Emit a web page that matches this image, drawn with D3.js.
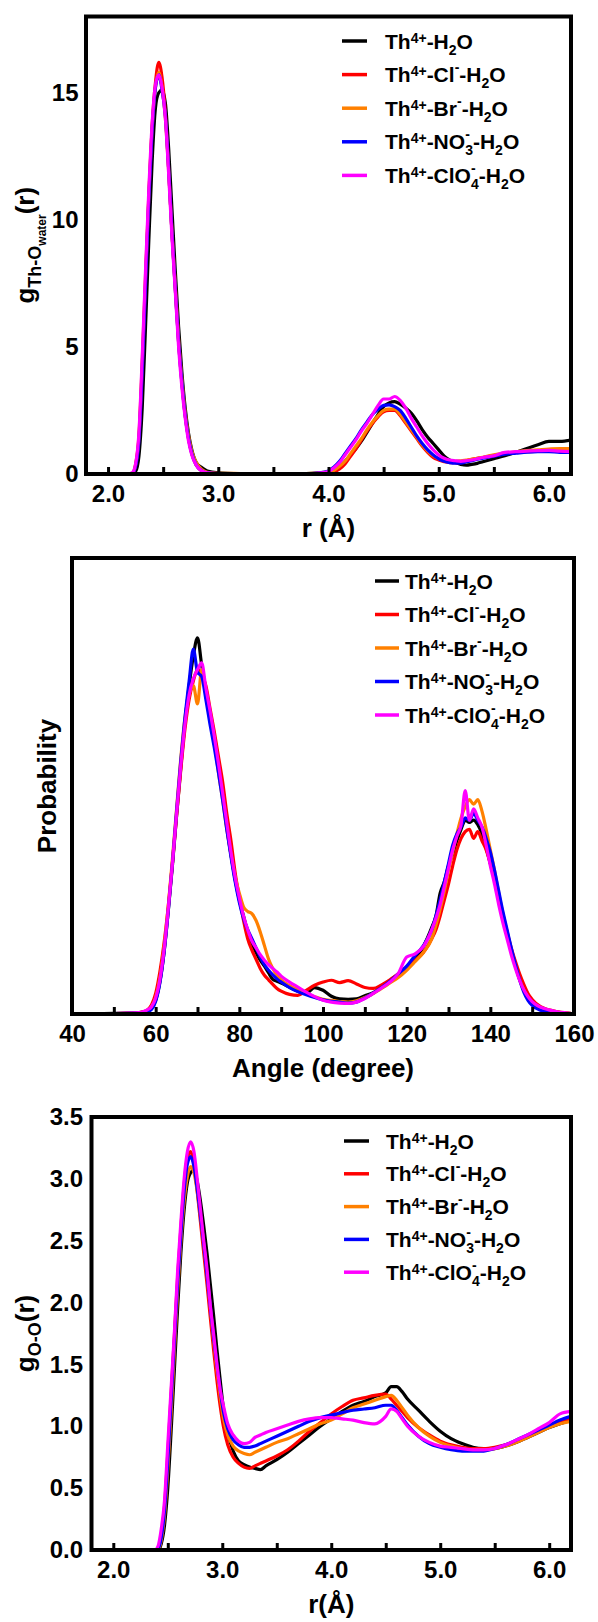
<!DOCTYPE html>
<html><head><meta charset="utf-8">
<script src="https://cdn.jsdelivr.net/npm/d3@7"></script>
<style>
body{margin:0;background:#fff}
svg{display:block}
text{font-family:"Liberation Sans",Arial,Helvetica,sans-serif;font-weight:bold;fill:#000}
</style>
</head><body>
<svg id="c" width="598" height="1622"></svg>
<script>
// ---------- shared ----------
const seriesColors = ["#000000", "#ff0000", "#ff8000", "#0000ff", "#ff00ff"];
const legendLabels = [
  [{t:"Th"},{t:"4+",k:"sup"},{t:"-H"},{t:"2",k:"sub"},{t:"O"}],
  [{t:"Th"},{t:"4+",k:"sup"},{t:"-Cl"},{t:"-",k:"supm"},{t:"-H"},{t:"2",k:"sub"},{t:"O"}],
  [{t:"Th"},{t:"4+",k:"sup"},{t:"-Br"},{t:"-",k:"supm"},{t:"-H"},{t:"2",k:"sub"},{t:"O"}],
  [{t:"Th"},{t:"4+",k:"sup"},{t:"-NO"},{t:"-",k:"supm"},{t:"3",k:"sub",stack:true},{t:"-H"},{t:"2",k:"sub"},{t:"O"}],
  [{t:"Th"},{t:"4+",k:"sup"},{t:"-ClO"},{t:"-",k:"supm"},{t:"4",k:"sub",stack:true},{t:"-H"},{t:"2",k:"sub"},{t:"O"}]
];

// ---------- panel 1 : g Th-O water ----------
const r1 = [1.80,2.00,2.18,2.22,2.25,2.28,2.31,2.34,2.37,2.40,2.43,2.46,2.49,2.52,2.55,2.58,2.61,2.64,2.67,2.70,2.73,2.76,2.80,2.85,2.90,3.00,3.20,3.50,3.80,3.90,4.00,4.05,4.10,4.15,4.20,4.25,4.30,4.35,4.40,4.45,4.50,4.55,4.60,4.65,4.70,4.75,4.80,4.85,4.90,4.95,5.00,5.05,5.10,5.15,5.20,5.25,5.30,5.35,5.40,5.50,5.60,5.70,5.80,5.90,6.00,6.10,6.20];
const g1Black  = [0,0,0,0,0.1,0.7,2.6,5.8,9.2,12.3,14.4,15.0,15.1,14.6,12.8,10.4,8.0,5.8,4.0,2.6,1.6,0.95,0.45,0.25,0.12,0.05,0.02,0.01,0.02,0.04,0.08,0.15,0.3,0.5,0.75,1.0,1.3,1.65,2.0,2.35,2.65,2.8,2.85,2.75,2.6,2.4,2.1,1.75,1.45,1.2,0.95,0.7,0.55,0.45,0.38,0.35,0.38,0.42,0.48,0.6,0.72,0.85,1.0,1.15,1.28,1.28,1.33];
const g1Cl     = [0,0,0,0.02,0.35,1.4,4.2,7.6,10.9,13.7,15.4,16.2,15.6,14.2,12.0,9.5,7.3,5.2,3.6,2.3,1.4,0.8,0.35,0.12,0.05,0.02,0.01,0,0,0.01,0.03,0.08,0.2,0.4,0.7,1.0,1.35,1.7,2.0,2.25,2.45,2.5,2.5,2.3,2.0,1.7,1.4,1.1,0.85,0.65,0.55,0.48,0.45,0.45,0.47,0.52,0.58,0.62,0.65,0.72,0.8,0.85,0.88,0.9,0.92,0.93,0.92];
const g1Br     = [0,0,0,0.03,0.38,1.5,4.4,7.8,11.0,13.6,15.2,15.8,15.2,14.0,11.9,9.5,7.4,5.3,3.7,2.4,1.5,0.9,0.45,0.18,0.07,0.03,0.02,0.01,0.02,0.04,0.1,0.15,0.3,0.5,0.8,1.1,1.4,1.75,2.05,2.3,2.5,2.55,2.55,2.35,2.05,1.75,1.45,1.15,0.9,0.72,0.6,0.52,0.5,0.5,0.52,0.55,0.58,0.62,0.66,0.75,0.82,0.87,0.92,0.95,0.98,1.0,1.0];
const g1NO3    = [0,0,0,0.02,0.3,1.3,4.0,7.4,10.8,13.5,15.2,15.7,15.1,14.1,12.0,9.5,7.3,5.2,3.6,2.3,1.4,0.8,0.35,0.13,0.05,0.02,0.01,0,0.01,0.04,0.12,0.28,0.5,0.8,1.1,1.4,1.75,2.05,2.35,2.55,2.7,2.72,2.65,2.5,2.2,1.85,1.5,1.2,0.95,0.75,0.6,0.5,0.45,0.43,0.43,0.48,0.52,0.58,0.62,0.7,0.78,0.82,0.86,0.88,0.88,0.85,0.85];
const g1ClO4   = [0,0,0,0.05,0.4,1.6,4.6,8.0,11.2,13.8,15.3,15.7,15.2,14.0,11.8,9.3,7.2,5.0,3.4,2.2,1.3,0.75,0.35,0.12,0.05,0.02,0.01,0,0.01,0.03,0.1,0.25,0.45,0.75,1.05,1.35,1.7,2.0,2.35,2.7,2.95,2.95,3.05,2.9,2.6,2.2,1.85,1.5,1.2,0.95,0.75,0.62,0.55,0.52,0.5,0.52,0.55,0.6,0.65,0.72,0.85,0.88,0.9,0.92,0.93,0.9,0.88];
const xTicks1 = [2.0,2.5,3.0,3.5,4.0,4.5,5.0,5.5,6.0];
const xTickLabels1 = ["2.0","","3.0","","4.0","","5.0","","6.0"];
const yTicks1 = [0,5,10,15];
const yTickLabels1 = ["0","5","10","15"];

// ---------- panel 2 : angle distribution ----------
const ang = [40,45,50,54,56,57,58,59,60,61,62,63,64,65,66,67,68,69,70,71,72,73,74,75,76,77,78,79,80,81,82,83,84,85,86,87,88,89,90,92,94,96,98,100,102,104,106,108,110,112,114,116,118,120,122,124,126,127,128,129,130,131,132,133,134,135,136,137,138,139,140,141,142,143,144,145,146,147,148,149,150,152,154,156,158,160];
const pBlack = [0,0.05,0.15,0.2,0.3,0.4,0.6,1.2,3.0,7.0,13.5,22.5,32.5,43.5,54,64,72,78.5,82.5,76.5,71,66,60.5,54.5,48,41,35,29.5,25,21.5,18,15.5,13.5,11.8,10.5,9.0,7.6,7.2,6.8,5.9,5.0,4.6,5.8,5.2,3.9,3.3,3.2,3.3,4.0,4.7,5.8,7.3,8.8,10.2,11.8,14.8,19.0,21.5,26.5,29,32.5,35,38,40.5,42.5,42,42.5,41.5,39.5,36.5,33,29.5,25.5,21.5,17.5,14,10.8,7.8,5.4,3.6,2.5,1.2,0.7,0.4,0.2,0.05];
const pCl    = [0,0.05,0.1,0.2,0.3,0.5,0.9,2.0,4.5,9.2,15.5,23.5,33,43.5,53.5,62.5,69,73,75.5,74.5,72,67,62,56.5,51,44,38,31,25.5,20.5,16.5,14,12,10,8.5,7.5,6.5,5.6,5.0,4.3,4.1,5.2,6.3,7.0,7.4,6.9,7.3,6.6,5.8,5.6,6.4,7.5,8.8,10.2,11.8,13.5,16.5,18.5,21.5,25,28.5,32.5,36,38.5,40,40.5,38.5,40,38,36,33,29.5,25.5,21.5,18,14.5,11.5,8.8,6.5,4.5,3.2,1.6,0.9,0.5,0.25,0.05];
const pBr    = [0,0.05,0.1,0.2,0.3,0.4,0.7,1.5,3.6,7.8,14.5,23.5,34,45,56,65,70,72,68,75.5,70,65,60,53,47,40.5,35,30,26.5,23.5,22.5,22,20.5,18,15,12,10,8.5,7.5,6.2,5.3,4.5,3.8,3.2,3.0,2.7,2.6,2.9,3.6,4.5,5.6,6.8,8.0,9.6,11.5,13.5,16.5,19.5,23,27,31.5,35.5,39.5,43,45.5,47,46,47,44.5,40.5,36,31.5,26.5,22,18,14,10.5,7.5,5.2,3.5,2.4,1.3,0.8,0.4,0.2,0.05];
const pNO3   = [0,0.05,0.1,0.2,0.25,0.35,0.5,1.0,2.8,6.8,13.5,22.5,33,44.5,55.5,65,73,80,75,74,69,63.5,58.5,53,47,40.5,34.5,29,24.5,21,18.5,16.5,14.5,12.5,10.8,9.6,8.6,7.7,7.0,5.8,4.9,4.2,3.6,3.1,2.8,2.6,2.4,2.6,3.5,4.6,5.8,7.2,8.8,10.5,12.8,15,18.5,21.5,25,29,33,37,39.5,41,43,42.5,44,42.5,41,38.5,35.5,31.5,27,22.5,18.5,14.5,10.8,7.5,4.8,3.0,1.9,0.8,0.4,0.2,0.1,0.02];
const pClO4  = [0,0.05,0.1,0.2,0.3,0.5,0.9,1.6,3.5,7.5,14,23,33,44,54.5,63.5,70,73.5,75.5,77,71.5,66.5,61,55,48.5,42,35.5,30,25.5,21.5,18.5,16,14.5,13,11.8,10.8,10,9.2,8.3,7.0,5.9,4.8,3.8,3.0,2.6,2.4,2.3,2.6,3.4,4.5,5.7,7.0,8.9,12.5,13.2,14.8,18.5,21,24,28,32,36,39,41.5,49,42.5,45,43,41,37,32.5,28.5,24,20,16.5,13,10,7.4,5.3,3.8,2.7,1.5,0.9,0.5,0.25,0.05];
const xTicks2 = [40,50,60,70,80,90,100,110,120,130,140,150,160];
const xTickLabels2 = ["40","","60","","80","","100","","120","","140","","160"];

// ---------- panel 3 : g O-O ----------
const r3 = [1.80,2.00,2.20,2.38,2.41,2.44,2.47,2.50,2.53,2.56,2.59,2.62,2.65,2.68,2.71,2.74,2.77,2.80,2.83,2.86,2.89,2.92,2.95,2.98,3.01,3.05,3.10,3.15,3.20,3.25,3.30,3.35,3.40,3.50,3.60,3.70,3.80,3.90,4.00,4.10,4.20,4.30,4.40,4.50,4.55,4.60,4.65,4.70,4.80,4.90,5.00,5.10,5.20,5.30,5.40,5.50,5.60,5.70,5.80,5.90,6.00,6.10,6.20];
const o3Black = [0,0,0,0,0,0.05,0.2,0.5,0.95,1.45,1.95,2.4,2.75,2.97,3.05,3.07,2.98,2.82,2.62,2.4,2.15,1.9,1.63,1.38,1.15,0.95,0.8,0.72,0.69,0.67,0.66,0.65,0.68,0.73,0.79,0.86,0.93,1.0,1.06,1.12,1.17,1.2,1.24,1.27,1.32,1.32,1.28,1.22,1.13,1.04,0.96,0.9,0.86,0.83,0.82,0.82,0.84,0.87,0.91,0.95,0.99,1.02,1.05];
const o3Cl    = [0,0,0,0,0.01,0.12,0.35,0.78,1.25,1.72,2.2,2.6,2.95,3.17,3.22,3.12,2.9,2.65,2.4,2.15,1.88,1.62,1.38,1.17,1.0,0.85,0.75,0.7,0.67,0.66,0.68,0.7,0.72,0.76,0.81,0.88,0.96,1.03,1.1,1.16,1.21,1.23,1.25,1.26,1.22,1.17,1.12,1.07,0.99,0.93,0.88,0.85,0.83,0.82,0.82,0.83,0.85,0.88,0.92,0.96,1.0,1.03,1.06];
const o3Br    = [0,0,0,0,0,0.08,0.28,0.65,1.1,1.6,2.08,2.5,2.82,3.02,3.1,3.05,2.9,2.7,2.47,2.22,1.96,1.7,1.46,1.25,1.07,0.93,0.84,0.8,0.78,0.77,0.79,0.81,0.83,0.87,0.9,0.94,0.98,1.02,1.05,1.1,1.15,1.18,1.21,1.24,1.25,1.21,1.15,1.09,0.99,0.92,0.87,0.84,0.82,0.81,0.81,0.82,0.84,0.87,0.91,0.95,0.99,1.02,1.04];
const o3NO3   = [0,0,0,0,0.01,0.1,0.32,0.72,1.2,1.68,2.15,2.55,2.9,3.12,3.18,3.1,2.92,2.7,2.47,2.22,1.97,1.72,1.5,1.3,1.12,0.98,0.89,0.85,0.83,0.83,0.84,0.86,0.88,0.92,0.96,1.0,1.04,1.07,1.09,1.11,1.13,1.14,1.15,1.17,1.17,1.13,1.07,1.01,0.92,0.86,0.83,0.81,0.8,0.8,0.8,0.82,0.85,0.89,0.93,0.97,1.01,1.05,1.08];
const o3ClO4  = [0,0,0,0,0.03,0.17,0.4,0.85,1.3,1.75,2.25,2.65,3.0,3.22,3.3,3.22,3.0,2.75,2.5,2.27,1.98,1.75,1.51,1.3,1.17,1.02,0.93,0.88,0.86,0.87,0.91,0.93,0.95,0.98,1.01,1.04,1.06,1.07,1.07,1.06,1.05,1.03,1.02,1.08,1.14,1.12,1.06,1.0,0.92,0.87,0.84,0.83,0.82,0.81,0.81,0.82,0.85,0.89,0.93,0.98,1.03,1.1,1.12];
const xTicks3 = [2.0,2.5,3.0,3.5,4.0,4.5,5.0,5.5,6.0];
const xTickLabels3 = ["2.0","","3.0","","4.0","","5.0","","6.0"];
const yTicks3 = [0,0.5,1.0,1.5,2.0,2.5,3.0,3.5];
const yTickLabels3 = ["0.0","0.5","1.0","1.5","2.0","2.5","3.0","3.5"];

// ---------- helpers ----------
const svg = d3.select("#c");
const legendStyle = {n:{size:21,dy:0}, sup:{size:14,dy:-6}, supm:{size:14,dy:-10}, sub:{size:14,dy:6}};
const titleStyle  = {n:{size:26,dy:0}, sub:{size:18,dy:7}, subsub:{size:12,dy:12}};

// one <text> element per label, built from tspans placed at measured offsets
function rich(parent, segs, styles) {
  const g = parent.append("g");
  const probe = g.append("text");
  const widths = segs.map(seg => {
    const st = styles[seg.k || "n"];
    probe.attr("font-size", st.size).text(seg.t);
    return probe.node().getComputedTextLength();
  });
  probe.remove();
  const t = g.append("text");
  let x = 0, prevStart = 0, prevW = 0;
  segs.forEach((seg, i) => {
    const st = styles[seg.k || "n"];
    const w = widths[i];
    let sx;
    if (seg.stack) { sx = prevStart; x = sx + Math.max(prevW, w); }
    else { sx = x; x = sx + w; }
    t.append("tspan").attr("x", sx).attr("y", st.dy).attr("font-size", st.size).text(seg.t);
    prevStart = sx; prevW = w;
  });
  return {g, width: x};
}

function panel(cfg) {
  const x = d3.scaleLinear().domain(cfg.xDomain).range([cfg.left, cfg.right]);
  const y = d3.scaleLinear().domain(cfg.yDomain).range([cfg.bottom, cfg.top]);
  const root = svg.append("g");
  const clipId = "clip" + cfg.id;
  root.append("clipPath").attr("id", clipId).append("rect")
    .attr("x", cfg.left).attr("y", cfg.top).attr("width", cfg.right - cfg.left).attr("height", cfg.bottom - cfg.top);

  const line = d3.line().x(d => x(d[0])).y(d => y(d[1])).curve(d3.curveMonotoneX);
  const lg = root.append("g").attr("clip-path", `url(#${clipId})`);
  cfg.series.forEach((vals, i) => {
    lg.append("path").datum(cfg.xs.map((xv, j) => [xv, vals[j]]))
      .attr("d", line).attr("fill", "none").attr("stroke", seriesColors[i])
      .attr("stroke-width", 3.2).attr("stroke-linejoin", "round");
  });

  // x axis
  const ax = d3.axisBottom(x).tickValues(cfg.xTicks).tickSize(-7).tickPadding(10.5)
    .tickFormat((d, i) => cfg.xTickLabels[i]);
  const gx = root.append("g").attr("transform", `translate(0,${cfg.bottom})`).call(ax);
  gx.select(".domain").remove();
  gx.selectAll(".tick line").attr("stroke", "#000").attr("stroke-width", 3);
  gx.selectAll(".tick text").attr("font-size", 24);
  gx.attr("font-family", null);

  if (cfg.yTicks) {
    const ay = d3.axisLeft(y).tickValues(cfg.yTicks).tickSize(0).tickPadding(cfg.yPad)
      .tickFormat((d, i) => cfg.yTickLabels[i]);
    const gy = root.append("g").attr("transform", `translate(${cfg.left},0)`).call(ay);
    gy.select(".domain").remove();
    gy.selectAll(".tick text").attr("font-size", 24);
    gy.attr("font-family", null);
  }

  // frame
  root.append("rect").attr("x", cfg.left).attr("y", cfg.top)
    .attr("width", cfg.right - cfg.left).attr("height", cfg.bottom - cfg.top)
    .attr("fill", "none").attr("stroke", "#000").attr("stroke-width", 4);

  // x title
  const xt = rich(root, cfg.xTitle, titleStyle);
  xt.g.attr("transform", `translate(${(cfg.left + cfg.right) / 2 - xt.width / 2},${cfg.bottom + 63})`);

  // y title
  const yt = rich(root, cfg.yTitle, titleStyle);
  yt.g.attr("transform", `translate(${cfg.yTitleX},${(cfg.top + cfg.bottom) / 2}) rotate(-90) translate(${-yt.width / 2},0)`);

  // legend
  legendLabels.forEach((segs, i) => {
    const yy = cfg.legend.y0 + i * cfg.legend.dy;
    root.append("line").attr("x1", cfg.legend.l1).attr("x2", cfg.legend.l2)
      .attr("y1", yy).attr("y2", yy).attr("stroke", seriesColors[i]).attr("stroke-width", 3.5);
    const t = rich(root, segs, legendStyle);
    t.g.attr("transform", `translate(${cfg.legend.tx},${yy + 7.5})`);
  });
}

panel({
  id: 1, xDomain: [1.8, 6.2], yDomain: [0, 18],
  left: 86, right: 571, top: 16.5, bottom: 474,
  xs: r1, series: [g1Black, g1Cl, g1Br, g1NO3, g1ClO4],
  xTicks: xTicks1, xTickLabels: xTickLabels1,
  yTicks: yTicks1, yTickLabels: yTickLabels1, yPad: 7.5,
  xTitle: [{t:"r (Å)"}],
  yTitle: [{t:"g"},{t:"Th-O",k:"sub"},{t:"water",k:"subsub"},{t:"(r)"}], yTitleX: 34,
  legend: {y0: 41, dy: 33.6, l1: 342, l2: 367, tx: 385}
});

panel({
  id: 2, xDomain: [40, 160], yDomain: [0, 100],
  left: 72, right: 574, top: 558, bottom: 1014,
  xs: ang, series: [pBlack, pCl, pBr, pNO3, pClO4],
  xTicks: xTicks2, xTickLabels: xTickLabels2,
  xTitle: [{t:"Angle (degree)"}],
  yTitle: [{t:"Probability"}], yTitleX: 56,
  legend: {y0: 581, dy: 33.5, l1: 375, l2: 399, tx: 405}
});

panel({
  id: 3, xDomain: [1.8, 6.2], yDomain: [0, 3.5],
  left: 91.5, right: 571, top: 1117, bottom: 1550,
  xs: r3, series: [o3Black, o3Cl, o3Br, o3NO3, o3ClO4],
  xTicks: xTicks3, xTickLabels: xTickLabels3,
  yTicks: yTicks3, yTickLabels: yTickLabels3, yPad: 8.5,
  xTitle: [{t:"r(Å)"}],
  yTitle: [{t:"g"},{t:"O-O",k:"sub"},{t:"(r)"}], yTitleX: 34,
  legend: {y0: 1141, dy: 32.8, l1: 344, l2: 369, tx: 386}
});
</script>
</body></html>
